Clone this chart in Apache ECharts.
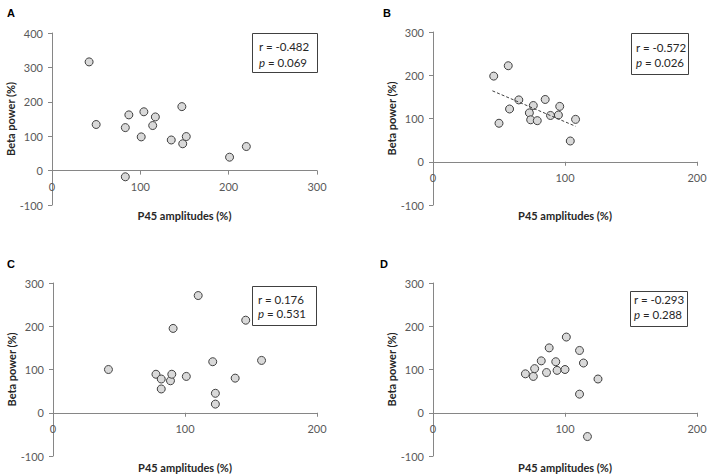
<!DOCTYPE html>
<html>
<head>
<meta charset="utf-8">
<script src="https://cdn.jsdelivr.net/npm/echarts@6/dist/echarts.min.js"></script>
<style>
html,body{margin:0;padding:0;background:#fff;}
#c{width:708px;height:476px;}
</style>
</head>
<body>
<div id="c"></div>
<script>
// Panel A
const aX = [42, 50, 83, 87, 83, 101, 104, 114, 117, 135, 147, 148, 152, 201, 220];
const aY = [316, 134, 125, 162, -18, 98, 171, 131, 156, 89, 186, 78, 99, 39, 70];
// Panel B
const bX = [46, 57, 50, 58, 65, 73, 76, 74, 79, 85, 89, 96, 95, 108, 104];
const bY = [198, 222, 89, 122, 143, 113, 130, 97, 95, 144, 107, 128, 108, 98, 48];
const bTrendX = [45, 108];
const bTrendY = [164, 82];
// Panel C
const cX = [42, 78, 82, 82, 89, 90, 91, 101, 110, 121, 123, 123, 138, 146, 158];
const cY = [100, 89, 78, 55, 74, 89, 195, 84, 271, 118, 45, 20, 80, 214, 121];
// Panel D
const dX = [70, 76, 77, 82, 88, 86, 93, 94, 100, 101, 111, 114, 111, 125, 117];
const dY = [90, 84, 102, 120, 150, 93, 118, 98, 100, 175, 144, 115, 43, 78, -55];

const panelLetters = ['A', 'B', 'C', 'D'];
const statR = ['r = -0.482', 'r = -0.572', 'r = 0.176', 'r = -0.293'];
const statP = ['0.069', '0.026', '0.531', '0.288'];
const xMax = [300, 200, 200, 200];
const yMin = -100;
const yMax = [400, 300, 300, 300];
const xTitle = 'P45 amplitudes (%)';
const yTitle = 'Beta power (%)';

const pairs = (xs, ys) => xs.map((x, i) => [x, ys[i]]);
const panelData = [pairs(aX, aY), pairs(bX, bY), pairs(cX, cY), pairs(dX, dY)];

const FONT = 'Lato';
const grids = [
  {left: 52, top: 33, width: 265, height: 172},
  {left: 433, top: 32, width: 264, height: 173},
  {left: 53, top: 283, width: 264, height: 173},
  {left: 433, top: 283, width: 264, height: 173}
];
const xNameGap = [39, 48, 49, 49];
const boxes = [
  {x: 252, y: 33, w: 65, h: 39, tx: 259, ty1: 46, ty2: 62},
  {x: 631, y: 33, w: 57, h: 41, tx: 636, ty1: 47, ty2: 62},
  {x: 252, y: 286, w: 64, h: 39, tx: 258, ty1: 299, ty2: 313},
  {x: 630, y: 291, w: 57, h: 35, tx: 634, ty1: 299, ty2: 314}
];
const letterPos = [[7, 7], [383, 7], [7, 258], [380, 258]];

const axisLineColor = '#868686';
const labelColor = '#595959';

// x axis sits at y = 0: shift it up from the grid bottom by the zero position
const zeroOffset = (g, i) => -g.height * (0 - yMin) / (yMax[i] - yMin);

const option = {
  animation: false,
  grid: grids.map(g => Object.assign({containLabel: false, outerBoundsMode: 'none'}, g)),
  xAxis: grids.map((g, i) => ({
    type: 'value', gridIndex: i, min: 0, max: xMax[i], interval: 100,
    position: 'bottom', offset: zeroOffset(g, i),
    name: xTitle, nameLocation: 'middle', nameGap: xNameGap[i],
    nameTextStyle: {fontFamily: FONT, fontWeight: 'bold', fontSize: 11, color: '#262626'},
    axisLine: {show: true, onZero: false, lineStyle: {color: axisLineColor, width: 1}},
    axisTick: {show: true, length: 4, inside: false, lineStyle: {color: axisLineColor}},
    axisLabel: {fontFamily: FONT, fontSize: 11, color: labelColor, margin: 10},
    splitLine: {show: false}
  })),
  yAxis: grids.map((g, i) => ({
    type: 'value', gridIndex: i, min: yMin, max: yMax[i], interval: 100,
    name: yTitle, nameLocation: 'middle', nameGap: 36,
    nameTextStyle: {fontFamily: FONT, fontWeight: 'bold', fontSize: 11, color: '#262626'},
    axisLine: {show: true, onZero: false, lineStyle: {color: axisLineColor, width: 1}},
    axisTick: {show: true, length: 4, inside: false, lineStyle: {color: axisLineColor}},
    axisLabel: {fontFamily: FONT, fontSize: 11, color: labelColor, margin: 9},
    splitLine: {show: false}
  })),
  series: panelData.map((d, i) => ({
    type: 'scatter', xAxisIndex: i, yAxisIndex: i, data: d,
    symbol: 'circle', symbolSize: 8,
    itemStyle: {color: '#d9d9d9', borderColor: '#404040', borderWidth: 1, opacity: 1}
  })).concat([{
    type: 'line', xAxisIndex: 1, yAxisIndex: 1, data: pairs(bTrendX, bTrendY),
    symbol: 'none', silent: true,
    lineStyle: {color: '#404040', width: 1, type: [3, 2]}
  }]),
  graphic: []
};

boxes.forEach((b, i) => {
  option.graphic.push({
    type: 'rect', shape: {x: b.x + 0.5, y: b.y + 0.5, width: b.w, height: b.h},
    style: {fill: '#fff', stroke: '#404040', lineWidth: 1}, z: 10
  });
  option.graphic.push({
    type: 'text', x: b.tx, y: b.ty1, z: 11,
    style: {text: statR[i], fontFamily: FONT, fontSize: 11.5, fill: '#262626', verticalAlign: 'middle', align: 'left'}
  });
  option.graphic.push({
    type: 'text', x: b.tx, y: b.ty2, z: 11,
    style: {
      text: '{i|p} = ' + statP[i], fontFamily: FONT, fontSize: 11.5, fill: '#262626',
      verticalAlign: 'middle', align: 'left',
      rich: {i: {fontStyle: 'italic', fontFamily: FONT, fontSize: 11.5, fill: '#262626'}}
    }
  });
});
panelLetters.forEach((L, i) => {
  option.graphic.push({
    type: 'text', x: letterPos[i][0], y: letterPos[i][1], z: 11,
    style: {text: L, fontFamily: 'Liberation Sans', fontWeight: 'bold', fontSize: 11, fill: '#000', verticalAlign: 'top'}
  });
});

const chart = echarts.init(document.getElementById('c'), null, {renderer: 'svg'});
chart.setOption(option);
</script>
</body>
</html>
